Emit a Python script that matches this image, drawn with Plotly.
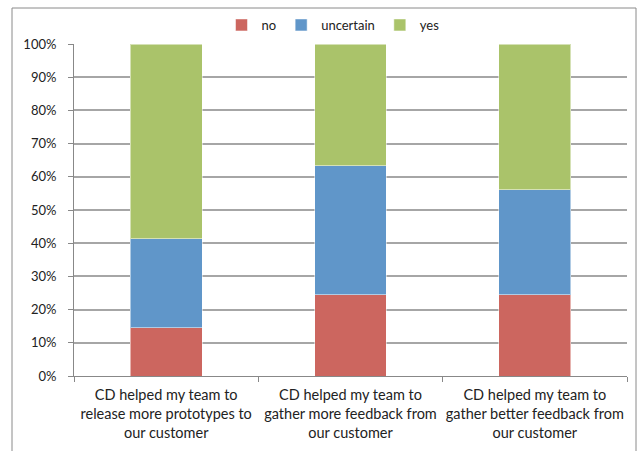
import plotly.graph_objects as go

categories = [
    "CD helped my team to<br>release more prototypes to<br>our customer",
    "CD helped my team to<br>gather more feedback from<br>our customer",
    "CD helped my team to<br>gather better feedback from<br>our customer",
]
no_pct = [14.6, 24.4, 24.4]
uncertain_pct = [26.8, 39.0, 31.7]
yes_pct = [58.6, 36.6, 43.9]

series = [
    ("no", no_pct, "#cc665f"),
    ("uncertain", uncertain_pct, "#6096c9"),
    ("yes", yes_pct, "#aac36a"),
]

fig = go.Figure()
for name, vals, color in series:
    fig.add_trace(go.Bar(
        x=categories, y=vals, name=name,
        marker=dict(color=color, line=dict(color="rgba(255,255,255,0.5)", width=1)),
    ))

W, H = 642, 451
L, R, T, B = 74, 15, 44, 75
pw, ph = W - L - R, H - T - B

def px_x(p):
    return (p - L) / pw

def px_y(p):
    return (H - B - p) / ph

fig.update_layout(
    width=W, height=H,
    margin=dict(l=L, r=R, t=T, b=B, autoexpand=False),
    barmode="stack", bargap=0.61,
    paper_bgcolor="white", plot_bgcolor="white",
    font=dict(family="Lato, Open Sans, sans-serif", size=13, color="#222"),
    legend=dict(
        orientation="h", x=px_x(333), xanchor="center", y=px_y(25), yanchor="middle",
        font=dict(size=13), itemwidth=30, traceorder="normal",
    ),
    xaxis=dict(
        showline=True, linecolor="#888", linewidth=1,
        ticks="outside", tickson="boundaries", ticklen=5, tickcolor="#888",
        tickfont=dict(size=14.5), ticklabelstandoff=6, tickangle=0,
        automargin=False, showgrid=False, fixedrange=True,
    ),
    yaxis=dict(
        range=[0, 100], dtick=10, ticksuffix="%",
        showline=True, linecolor="#888", linewidth=1,
        ticks="outside", ticklen=5, tickcolor="#888",
        tickfont=dict(size=13), ticklabelstandoff=9,
        automargin=False,
        showgrid=True, gridcolor="#a6a6a6", gridwidth=1.5,
        zeroline=False,
    ),
    shapes=[dict(
        type="rect", xref="paper", yref="paper",
        x0=px_x(12), x1=px_x(636), y0=px_y(460), y1=px_y(8),
        line=dict(color="#8a8a8a", width=1), layer="below",
    )],
)

fig.write_html("out.html")
